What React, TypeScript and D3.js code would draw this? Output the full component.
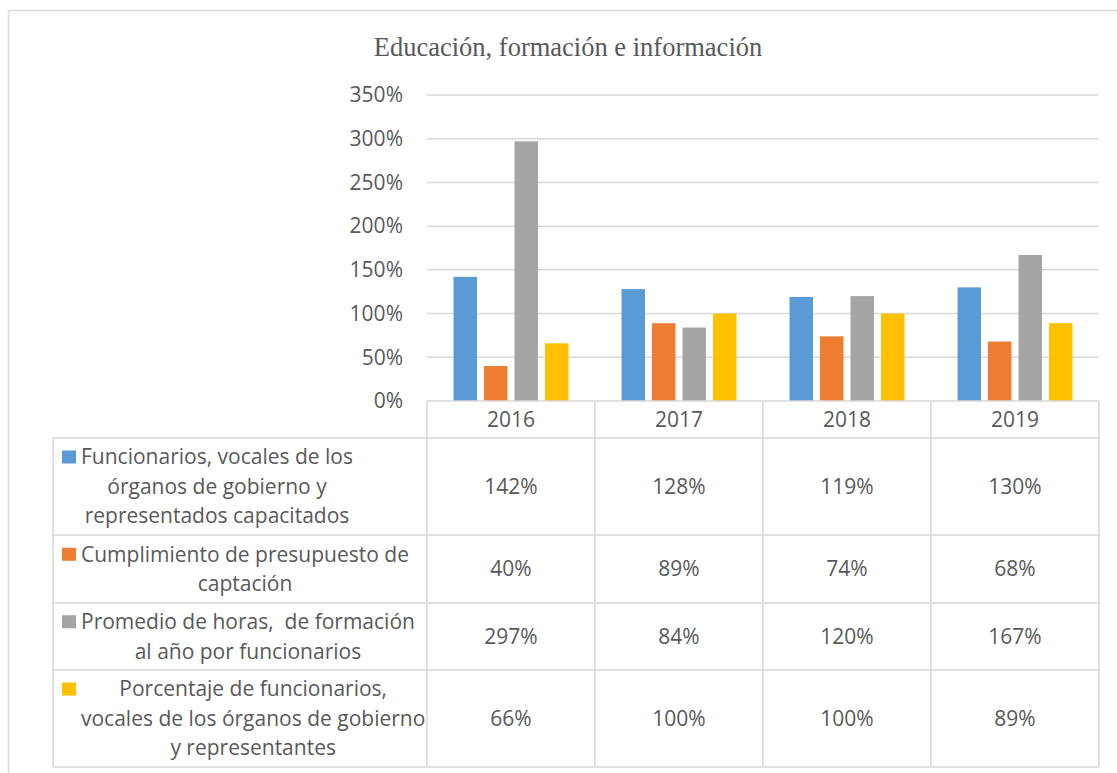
import React, { useEffect, useRef } from 'react';
import * as d3 from 'd3';

// Chart data
const years = ['2016', '2017', '2018', '2019'];
const seriesNames = [
  'Funcionarios, vocales de los órganos de gobierno y representados capacitados',
  'Cumplimiento de presupuesto de captación',
  'Promedio de horas,  de formación al año por funcionarios',
  'Porcentaje de funcionarios, vocales de los órganos de gobierno y representantes',
];
// wrapped lines as they appear in the table
const seriesLines = [
  ['Funcionarios, vocales de los', 'órganos de gobierno y', 'representados capacitados'],
  ['Cumplimiento de presupuesto de', 'captación'],
  ['Promedio de horas,  de formación', 'al año por funcionarios'],
  ['Porcentaje de funcionarios,', 'vocales de los órganos de gobierno', 'y representantes'],
];
const seriesColors = ['#5B9BD5', '#ED7D31', '#A5A5A5', '#FFC000'];
const values = [
  [1.42, 1.28, 1.19, 1.30],
  [0.40, 0.89, 0.74, 0.68],
  [2.97, 0.84, 1.20, 1.67],
  [0.66, 1.00, 1.00, 0.89],
];
const yTicks = [0, 0.5, 1, 1.5, 2, 2.5, 3, 3.5];

const W = 1117;
const H = 773;
const plotLeft = 427;
const plotRight = 1099;
const plotTop = 95;
const plotBottom = 401;
const tableLeft = 53;
const headerBottom = 438;
const rowBottoms = [535, 603, 670, 767];
const lineH = 29.5;
const fontUI = "'Open Sans', Calibri, sans-serif";
const fontSize = 21;
const textColor = '#595959';
const gridColor = '#d9d9d9';

const App = () => {
  const labelRef = useRef<SVGGElement>(null);

  const x0 = d3.scaleBand<string>().domain(years).range([plotLeft, plotRight]);
  const x1 = d3
    .scaleBand<number>()
    .domain(d3.range(seriesNames.length))
    .range([0, x0.bandwidth()])
    .paddingInner(0.23)
    .paddingOuter(0.87);
  const y = d3.scaleLinear().domain([0, 3.5]).range([plotBottom, plotTop]);
  const fmt = d3.format('.0%');

  const rowTops = [headerBottom, ...rowBottoms.slice(0, -1)];

  // center each label line relative to the widest line of its row
  useEffect(() => {
    if (!labelRef.current) return;
    const g = d3.select(labelRef.current);
    g.selectAll<SVGGElement, unknown>('g.row').each(function () {
      const texts = d3.select(this).selectAll<SVGTextElement, unknown>('text');
      const widths: number[] = [];
      texts.each(function () {
        widths.push(this.getComputedTextLength());
      });
      const maxW = d3.max(widths) || 0;
      texts.attr('x', (_d, i) => 81 + (maxW - widths[i]) / 2);
    });
  }, []);

  return (
    <div style={{ position: 'absolute', left: 0, top: 0 }}>
      <svg width={W} height={H} style={{ display: 'block', background: '#fff' }}>
        {/* outer frame */}
        <rect x={8.5} y={10.5} width={W + 10} height={H + 10} fill="none" stroke={gridColor} strokeWidth={1.5} />

        <text
          x={568}
          y={56}
          textAnchor="middle"
          fontFamily="'Times New Roman', 'Liberation Serif', serif"
          fontSize={26.5}
          fill={textColor}
        >
          Educación, formación e información
        </text>

        {/* gridlines and y labels */}
        {yTicks.map((t) => (
          <g key={t}>
            {t > 0 && (
              <line x1={plotLeft} x2={plotRight} y1={y(t)} y2={y(t)} stroke={gridColor} strokeWidth={1.5} />
            )}
            <text
              x={403}
              y={y(t)}
              dy="0.35em"
              textAnchor="end"
              fontFamily={fontUI}
              fontSize={fontSize}
              fill={textColor}
            >
              {fmt(t)}
            </text>
          </g>
        ))}

        {/* bars */}
        {years.map((yr, j) => (
          <g key={yr} transform={`translate(${x0(yr)},0)`}>
            {values.map((vals, i) => (
              <rect
                key={i}
                x={x1(i)}
                y={y(vals[j])}
                width={x1.bandwidth()}
                height={plotBottom - y(vals[j])}
                fill={seriesColors[i]}
              />
            ))}
          </g>
        ))}

        {/* data table grid */}
        <g stroke={gridColor} strokeWidth={1.5} fill="none">
          <line x1={plotLeft} x2={plotRight} y1={plotBottom} y2={plotBottom} />
          <line x1={tableLeft} x2={plotRight} y1={headerBottom} y2={headerBottom} />
          {rowBottoms.map((b) => (
            <line key={b} x1={tableLeft} x2={plotRight} y1={b} y2={b} />
          ))}
          <line x1={tableLeft} x2={tableLeft} y1={headerBottom} y2={rowBottoms[3]} />
          {years.map((yr) => (
            <line key={yr} x1={x0(yr)} x2={x0(yr)} y1={plotBottom} y2={rowBottoms[3]} />
          ))}
          <line x1={plotRight} x2={plotRight} y1={plotBottom} y2={rowBottoms[3]} />
        </g>

        {/* header years */}
        {years.map((yr) => (
          <text
            key={yr}
            x={(x0(yr) || 0) + x0.bandwidth() / 2}
            y={(plotBottom + headerBottom) / 2}
            dy="0.35em"
            textAnchor="middle"
            fontFamily={fontUI}
            fontSize={fontSize}
            fill={textColor}
          >
            {yr}
          </text>
        ))}

        {/* row labels with legend keys */}
        <g ref={labelRef}>
          {seriesLines.map((lines, i) => {
            const mid = (rowTops[i] + rowBottoms[i]) / 2;
            const first = mid - ((lines.length - 1) * lineH) / 2;
            return (
              <g key={i}>
                <rect x={62} y={first - 6.5} width={14} height={13} fill={seriesColors[i]} />
                <g className="row">
                  {lines.map((ln, k) => (
                    <text
                      key={k}
                      x={81}
                      y={first + k * lineH}
                      dy="0.35em"
                      fontFamily={fontUI}
                      fontSize={fontSize}
                      fill={textColor}
                      style={{ whiteSpace: 'pre' }}
                    >
                      {ln}
                    </text>
                  ))}
                </g>
              </g>
            );
          })}
        </g>

        {/* values */}
        {values.map((vals, i) =>
          vals.map((v, j) => (
            <text
              key={`${i}-${j}`}
              x={(x0(years[j]) || 0) + x0.bandwidth() / 2}
              y={(rowTops[i] + rowBottoms[i]) / 2}
              dy="0.35em"
              textAnchor="middle"
              fontFamily={fontUI}
              fontSize={fontSize}
              fill={textColor}
            >
              {fmt(v)}
            </text>
          ))
        )}
      </svg>
    </div>
  );
};

export default App;
